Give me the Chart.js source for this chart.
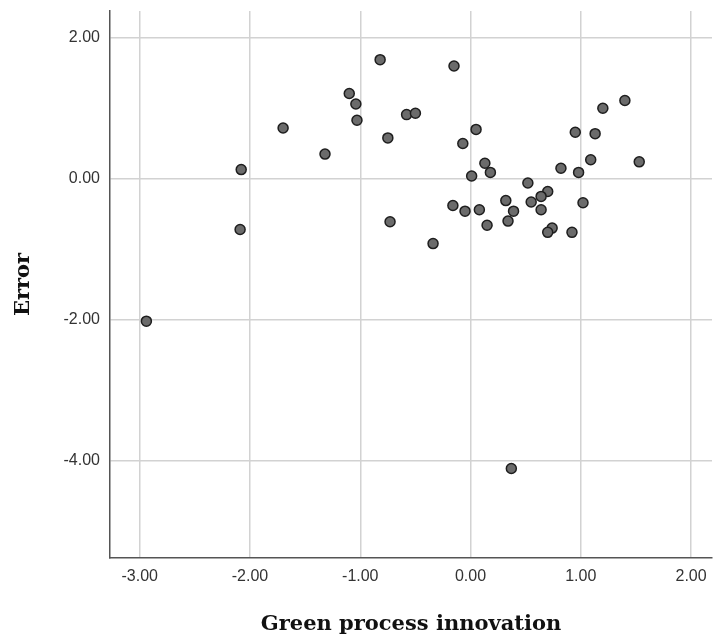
<!DOCTYPE html>
<html>
<head>
<meta charset="utf-8">
<script src="https://cdn.jsdelivr.net/npm/chart.js@4/dist/chart.umd.min.js"></script>
<style>
html,body{margin:0;padding:0;background:#fff;}
canvas{display:block;}
</style>
</head>
<body>
<canvas id="c" width="713" height="642"></canvas>
<script>
// Green process innovation (x) vs Error (y)
const processInnovation = [
  -1.10, -1.04, -1.03, -1.70, -1.32, -2.08, -2.09, -2.94,
  -0.82, -0.15, -0.58, -0.50, -0.75, 0.05, -0.07, 0.13, 0.18, 0.01,
  0.52, 0.82, 0.98, 1.09, 1.53, 0.95, 1.13, 1.20, 1.40,
  0.70, 0.64, 0.55, 0.64, 1.02, 0.32, 0.39, 0.34, 0.15, 0.08, -0.05, -0.16,
  -0.73, -0.34, 0.74, 0.70, 0.92, 0.37
];
const errorValues = [
  1.21, 1.06, 0.83, 0.72, 0.35, 0.13, -0.72, -2.02,
  1.69, 1.60, 0.91, 0.93, 0.58, 0.70, 0.50, 0.22, 0.09, 0.04,
  -0.06, 0.15, 0.09, 0.27, 0.24, 0.66, 0.64, 1.00, 1.11,
  -0.18, -0.25, -0.33, -0.44, -0.34, -0.31, -0.46, -0.60, -0.66, -0.44, -0.46, -0.38,
  -0.61, -0.92, -0.70, -0.76, -0.76, -4.11
];
const xTickValues = [-3, -2, -1, 0, 1, 2];
const yTickValues = [2, 0, -2, -4];
const xTitle = 'Green process innovation';
const yTitle = 'Error';

const points = processInnovation.map((x, i) => ({x: x, y: errorValues[i]}));

const tickFont = {family: '"Liberation Sans", Arial, sans-serif', size: 16};
const titleFont = {family: '"DejaVu Serif", "Liberation Serif", serif', size: 21, weight: 'bold'};

new Chart(document.getElementById('c'), {
  type: 'scatter',
  data: {
    datasets: [{
      data: points,
      backgroundColor: '#6b6b6b',
      borderColor: '#1e1e1e',
      borderWidth: 1.5,
      pointRadius: 5,
      pointHoverRadius: 5
    }]
  },
  options: {
    responsive: false,
    devicePixelRatio: 1,
    animation: false,
    layout: {autoPadding: false, padding: {top: 11, right: 1, left: 0, bottom: 0}},
    plugins: {legend: {display: false}, tooltip: {enabled: false}},
    scales: {
      x: {
        type: 'linear',
        min: -3.27,
        max: 2.19,
        afterBuildTicks: s => { s.ticks = xTickValues.map(v => ({value: v})); },
        afterFit: s => { s.height = 84; s.paddingLeft = 0; s.paddingRight = 0; },
        grid: {color: '#d2d2d2', lineWidth: 1.5, drawTicks: false},
        border: {display: true, color: '#555555', width: 1.5},
        ticks: {font: tickFont, color: '#333333', padding: 9, maxRotation: 0,
                callback: v => Number(v).toFixed(2)},
        title: {display: true, text: xTitle, font: titleFont, color: '#111111',
                padding: {top: 0, bottom: 5}}
      },
      y: {
        type: 'linear',
        min: -5.38,
        max: 2.38,
        afterBuildTicks: s => { s.ticks = yTickValues.map(v => ({value: v})); },
        afterFit: s => { s.width = 110; s.paddingTop = 0; s.paddingBottom = 0; },
        grid: {color: '#d2d2d2', lineWidth: 1.5, drawTicks: false},
        border: {display: true, color: '#555555', width: 1.5},
        ticks: {font: tickFont, color: '#333333', padding: 10,
                callback: v => Number(v).toFixed(2)},
        title: {display: true, text: yTitle, font: titleFont, color: '#111111',
                padding: {top: 11, bottom: 0}}
      }
    }
  }
});
</script>
</body>
</html>
